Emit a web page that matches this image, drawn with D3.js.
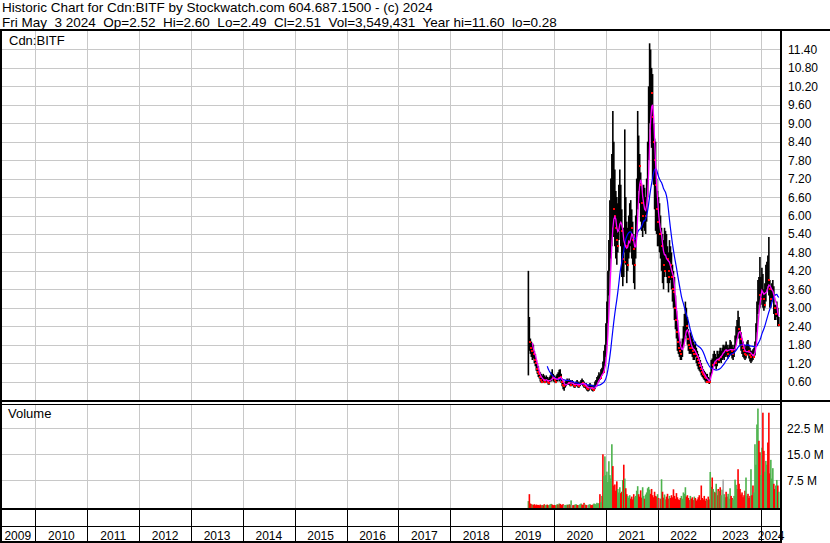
<!DOCTYPE html>
<html>
<head>
<meta charset="utf-8">
<script src="https://cdn.jsdelivr.net/npm/d3@7"></script>
<style>
body { margin: 0; background: #fff; }
svg { display: block; font-family: "Liberation Sans", Arial, sans-serif; }
</style>
</head>
<body>
<div class="chart"></div>
<script>
// weekly bars, first one is the week of 2019-07-05
var firstWeek = new Date(2019, 6, 5);

var highs = [
  4.2,2.7,2.0,1.9,1.85,1.8,1.6,1.5,1.3,1.2,
  1.1,0.95,0.9,0.85,0.8,0.85,0.8,0.75,0.8,0.75,
  0.7,0.75,0.8,0.9,1.0,0.85,0.8,0.75,0.8,0.85,
  0.9,0.98,1.0,0.85,0.7,0.6,0.55,0.6,0.65,0.7,
  0.65,0.7,0.65,0.6,0.65,0.6,0.55,0.55,0.6,0.65,
  0.6,0.55,0.6,0.65,0.7,0.65,0.6,0.55,0.55,0.5,
  0.45,0.5,0.55,0.5,0.5,0.45,0.5,0.6,0.65,0.75,
  0.8,0.9,0.85,1.0,1.05,1.25,1.6,1.8,2.5,3.2,
  4.2,5.2,6.5,7.2,8.0,9.4,8.4,7.5,6.8,6.6,
  6.4,7.0,7.5,7.0,6.2,5.6,5.6,8.8,6.6,5.8,
  5.6,6.0,6.4,6.5,6.2,5.8,5.4,5.2,6.0,7.2,
  9.4,8.6,8.0,7.4,7.0,6.8,7.0,6.9,6.6,7.2,
  8.4,10.2,11.6,11.4,10.8,10.6,9.0,8.5,8.4,7.2,
  6.8,6.6,6.4,6.0,5.6,5.4,5.2,5.6,5.5,5.4,
  5.0,4.8,5.2,5.0,4.8,4.4,4.2,4.0,3.4,2.9,
  2.6,2.2,2.0,1.9,1.8,2.0,2.4,2.8,3.2,3.0,
  2.7,2.3,2.1,2.2,2.1,2.0,1.9,1.8,1.9,1.7,
  1.6,1.5,1.4,1.3,1.2,1.1,1.0,0.95,0.9,0.85,
  0.85,0.75,0.7,0.9,1.3,1.35,1.5,1.6,1.5,1.4,
  1.6,1.5,1.6,1.7,1.6,1.7,1.8,1.75,1.8,1.9,
  1.8,1.7,1.8,1.95,1.9,1.8,1.7,1.8,2.1,2.4,
  2.6,2.9,2.7,2.4,2.2,2.0,1.9,1.8,1.7,1.8,
  1.9,1.95,1.8,1.7,1.6,1.6,1.65,1.7,1.9,2.5,
  3.2,3.9,4.0,4.65,4.0,4.3,4.1,3.6,3.8,4.4,
  4.5,4.7,5.3,3.9,3.7,3.8,3.9,3.7,3.1,3.1,
  3.2,3.0,2.7
];

var lows = [
  0.8,1.6,1.5,1.4,1.3,1.35,1.2,1.1,0.95,0.85,
  0.75,0.7,0.6,0.55,0.55,0.6,0.55,0.55,0.6,0.55,
  0.5,0.5,0.6,0.6,0.7,0.6,0.6,0.55,0.55,0.6,
  0.65,0.6,0.65,0.55,0.45,0.35,0.3,0.4,0.45,0.5,
  0.5,0.5,0.45,0.45,0.5,0.45,0.4,0.4,0.45,0.45,
  0.4,0.4,0.45,0.5,0.5,0.45,0.4,0.4,0.35,0.3,
  0.28,0.3,0.35,0.35,0.3,0.28,0.3,0.35,0.45,0.5,
  0.55,0.6,0.65,0.7,0.8,0.85,0.9,1.1,1.4,1.8,
  2.5,3.4,4.2,4.6,5.0,5.6,5.3,5.0,4.6,4.4,
  4.8,5.2,5.5,5.0,4.0,3.7,4.0,4.8,4.4,3.8,
  4.2,4.6,4.8,5.0,4.6,4.4,3.8,3.6,4.6,5.4,
  6.2,6.8,6.4,5.8,5.5,5.3,5.6,5.5,5.4,5.8,
  6.6,7.8,9.0,8.8,8.2,7.2,7.0,6.2,5.5,5.4,
  5.0,5.0,4.8,4.6,4.2,3.8,3.6,4.0,4.2,4.0,
  3.8,3.5,3.8,3.9,3.6,3.2,3.0,2.6,2.3,2.0,
  1.6,1.5,1.4,1.3,1.3,1.4,1.7,1.9,2.0,2.1,
  1.8,1.6,1.5,1.5,1.5,1.4,1.3,1.3,1.4,1.2,
  1.1,1.0,0.95,0.9,0.8,0.75,0.7,0.65,0.6,0.55,
  0.6,0.55,0.52,0.6,0.8,1.0,1.05,1.1,1.1,1.0,
  1.1,1.2,1.2,1.25,1.2,1.3,1.35,1.3,1.4,1.45,
  1.4,1.35,1.4,1.5,1.45,1.35,1.3,1.4,1.6,1.8,
  2.0,2.2,2.0,1.8,1.6,1.5,1.4,1.35,1.3,1.35,
  1.45,1.5,1.35,1.25,1.2,1.25,1.3,1.45,1.45,1.75,
  2.2,2.8,3.1,3.0,3.1,3.3,3.0,2.9,3.0,3.2,
  3.6,3.7,3.4,3.0,3.0,3.2,3.3,2.8,2.6,2.6,
  2.7,2.4,2.4
];

var closes = [
  2.4,1.9,1.7,1.6,1.7,1.5,1.3,1.2,1.0,0.9,
  0.85,0.75,0.65,0.6,0.7,0.65,0.6,0.65,0.7,0.6,
  0.55,0.65,0.7,0.8,0.75,0.7,0.65,0.6,0.7,0.75,
  0.7,0.8,0.75,0.6,0.5,0.45,0.45,0.5,0.55,0.6,
  0.55,0.6,0.5,0.55,0.55,0.5,0.45,0.5,0.55,0.5,
  0.45,0.5,0.55,0.6,0.55,0.5,0.45,0.5,0.4,0.35,
  0.35,0.4,0.45,0.4,0.35,0.32,0.4,0.5,0.55,0.65,
  0.7,0.75,0.7,0.9,1.0,0.9,1.1,1.4,1.9,2.6,
  3.6,4.5,5.2,5.6,6.4,6.2,6.0,5.6,5.2,5.0,
  5.6,6.2,6.6,5.5,4.6,4.8,4.5,6.0,5.0,4.4,
  5.0,5.4,5.8,5.6,5.2,4.9,4.4,4.8,5.6,6.6,
  8.2,7.6,7.0,6.4,6.0,6.2,6.4,6.0,6.2,6.9,
  8.0,9.6,10.8,10.0,9.2,8.4,7.8,7.0,6.2,5.8,
  6.0,5.4,5.4,5.0,5.2,4.4,4.2,4.8,5.0,4.6,
  4.2,4.0,4.6,4.4,4.0,3.6,3.5,3.0,2.6,2.2,
  1.9,1.7,1.6,1.5,1.6,1.8,2.1,2.3,2.6,2.4,
  2.0,1.8,1.7,1.8,1.7,1.6,1.5,1.6,1.5,1.4,
  1.3,1.2,1.1,1.0,0.9,0.85,0.8,0.75,0.7,0.6,
  0.65,0.6,0.58,0.85,1.25,1.15,1.3,1.4,1.2,1.3,
  1.4,1.3,1.5,1.4,1.5,1.6,1.6,1.65,1.7,1.6,
  1.5,1.6,1.7,1.8,1.6,1.5,1.55,1.7,1.9,2.2,
  2.4,2.3,2.2,2.0,1.8,1.7,1.6,1.5,1.45,1.6,
  1.7,1.6,1.45,1.4,1.5,1.45,1.4,1.55,1.8,2.3,
  2.9,3.6,3.4,3.3,3.6,3.9,3.3,3.1,3.4,3.8,
  4.0,3.9,3.6,3.3,3.5,3.6,3.7,3.0,2.8,2.9,
  3.0,2.45,2.51
];

// weekly volume, millions of shares
var volumes = [
  1.5,3.5,0.8,0.6,0.5,0.4,0.6,0.3,0.5,0.4,
  0.4,0.3,0.5,0.3,0.4,0.3,0.6,0.3,0.4,0.5,
  0.3,0.4,0.6,0.7,0.5,0.3,0.4,0.3,0.4,0.6,
  0.5,0.8,0.7,0.4,0.5,0.6,0.3,0.4,0.3,0.5,
  0.4,0.6,0.5,1.7,0.4,0.3,0.4,0.5,0.6,0.4,
  0.3,0.4,0.6,0.8,0.5,0.4,1.0,0.5,0.4,0.3,
  0.4,0.5,0.6,0.4,0.3,0.5,0.8,0.7,0.5,1.0,
  0.8,0.9,3.5,1.2,3.0,15.0,8.7,14.4,9.0,10.0,
  7.0,13.0,9.0,8.0,17.9,11.6,6.0,6.3,4.5,7.2,
  5.0,4.0,5.5,3.8,4.2,7.6,12.0,8.0,5.2,3.5,
  3.0,2.5,3.2,2.2,2.8,2.0,3.5,2.6,3.0,4.5,
  5.8,3.5,2.8,4.6,2.5,5.5,3.0,2.2,3.4,4.0,
  5.2,5.6,4.8,3.6,5.0,3.2,2.6,4.2,3.0,2.8,
  3.5,2.4,2.2,2.2,7.8,4.2,2.5,3.4,2.0,2.8,
  3.6,2.2,3.0,2.4,3.2,2.6,4.9,3.0,2.2,3.8,
  2.6,2.0,1.8,2.4,3.0,2.2,4.0,3.6,5.5,2.8,
  3.2,2.4,1.8,3.0,2.2,2.6,1.8,2.8,2.4,1.6,
  2.0,2.6,3.2,1.8,6.0,2.4,2.0,3.0,1.6,2.2,
  1.8,2.8,2.0,9.9,5.6,8.3,5.0,4.2,4.0,6.5,
  3.2,5.0,4.4,5.5,3.2,4.8,7.7,3.5,2.6,4.2,
  2.8,3.6,2.2,5.2,3.0,2.4,2.0,3.0,7.7,6.2,
  5.0,10.7,6.5,5.0,3.4,4.0,2.6,3.2,4.5,8.3,
  3.0,3.6,2.4,3.0,10.7,3.2,6.0,4.0,17.9,12.0,
  23.6,28.2,18.9,15.6,9.0,16.9,27.0,16.0,10.0,13.1,
  12.0,18.4,27.0,9.5,13.4,8.0,11.0,6.5,5.0,6.0,
  7.6,6.0,4.2
];

var priceTicks = [0.6,1.2,1.8,2.4,3.0,3.6,4.2,4.8,5.4,6.0,6.6,7.2,7.8,8.4,9.0,9.6,10.2,10.8,11.4];
var volumeTicks = [7.5, 15, 22.5];
var years = [2009,2010,2011,2012,2013,2014,2015,2016,2017,2018,2019,2020,2021,2022,2023,2024];

var headerLines = [
  "Historic Chart for Cdn:BITF by Stockwatch.com 604.687.1500 - (c) 2024",
  "Fri May  3 2024  Op=2.52  Hi=2.60  Lo=2.49  Cl=2.51  Vol=3,549,431  Year hi=11.60  lo=0.28"
];

var width = 830;
var height = 543;
var plotRight = 781;
var priceTop = 30, priceBottom = 401;
var volTop = 404, volBottom = 509;

var x = d3.scaleTime()
  .domain([new Date(2009, 4, 3), new Date(2024, 4, 3)])
  .range([1, 778.8]);

var y = d3.scaleLinear()
  .domain([0, 12])
  .range([400, 31]);

var yVol = d3.scaleLinear()
  .domain([0, 30])
  .range([506.3, 402.3]);

var weeks = closes.map(function(c, i) {
  return {
    date: d3.timeDay.offset(firstWeek, i * 7),
    high: highs[i],
    low: lows[i],
    close: c,
    volume: volumes[i],
    change: i === 0 ? 1 : c - closes[i - 1]
  };
});

function movingAverage(n) {
  return weeks.map(function(d, i) {
    if (i < n - 1) return null;
    return {date: d.date, value: d3.mean(weeks.slice(i - n + 1, i + 1), function(w) { return w.close; })};
  });
}

function crisp(v) { return Math.round(v) + 0.5; }

var yearStarts = years.slice(1).map(function(yr) { return new Date(yr, 0, 1); });

var svg = d3.select(".chart").append("svg")
    .attr("width", width)
    .attr("height", height);

svg.append("rect")
  .attr("width", width)
  .attr("height", height)
  .attr("fill", "#fff");

// header
svg.selectAll(".header")
  .data(headerLines)
  .enter().append("text")
    .attr("class", "header")
    .attr("x", 2)
    .attr("y", function(d, i) { return 12 + i * 14.5; })
    .style("font-size", "13.5px")
    .style("white-space", "pre")
    .attr("fill", "#000")
    .text(function(d) { return d; });

// grid
var grid = svg.append("g")
  .attr("stroke", "#c8c8c8")
  .attr("stroke-width", 1)
  .attr("shape-rendering", "crispEdges");

grid.selectAll(".hgrid")
  .data(priceTicks)
  .enter().append("line")
    .attr("x1", 1).attr("x2", plotRight)
    .attr("y1", function(d) { return crisp(y(d)); })
    .attr("y2", function(d) { return crisp(y(d)); });

grid.selectAll(".vgrid")
  .data(volumeTicks)
  .enter().append("line")
    .attr("x1", 1).attr("x2", plotRight)
    .attr("y1", function(d) { return crisp(yVol(d)); })
    .attr("y2", function(d) { return crisp(yVol(d)); });

[[priceTop, priceBottom], [volTop, volBottom]].forEach(function(span) {
  grid.selectAll(null)
    .data(yearStarts)
    .enter().append("line")
      .attr("x1", function(d) { return crisp(x(d)); })
      .attr("x2", function(d) { return crisp(x(d)); })
      .attr("y1", span[0]).attr("y2", span[1]);
});

svg.append("clipPath").attr("id", "priceClip")
  .append("rect").attr("x", 1).attr("y", priceTop).attr("width", plotRight - 1).attr("height", priceBottom - priceTop);
svg.append("clipPath").attr("id", "volClip")
  .append("rect").attr("x", 1).attr("y", volTop).attr("width", plotRight - 1).attr("height", volBottom - volTop);

// price bars
var priceG = svg.append("g").attr("clip-path", "url(#priceClip)");

var line = d3.line()
  .defined(function(d) { return d !== null; })
  .x(function(d) { return x(d.date); })
  .y(function(d) { return y(d.value); });

priceG.selectAll(".bar")
  .data(weeks)
  .enter().append("line")
    .attr("class", "bar")
    .attr("x1", function(d) { return x(d.date); })
    .attr("x2", function(d) { return x(d.date); })
    .attr("y1", function(d) { return y(d.high); })
    .attr("y2", function(d) { return y(d.low); })
    .attr("stroke", "#000")
    .attr("stroke-width", 1.6);

priceG.selectAll(".closeDot")
  .data(weeks.filter(function(d) { return d.change < 0; }))
  .enter().append("rect")
    .attr("class", "closeDot")
    .attr("x", function(d) { return Math.round(x(d.date)); })
    .attr("y", function(d) { return Math.round(y(d.close)) - 1; })
    .attr("width", 2)
    .attr("height", 2)
    .attr("fill", "#ff0000");

priceG.append("path")
  .attr("d", line(movingAverage(20)))
  .attr("fill", "none")
  .attr("stroke", "#0000ff")
  .attr("stroke-width", 1.2);

priceG.append("path")
  .attr("d", line(movingAverage(5)))
  .attr("fill", "none")
  .attr("stroke", "#ff00ff")
  .attr("stroke-width", 1.3);

// volume bars
var volG = svg.append("g").attr("clip-path", "url(#volClip)");

volG.selectAll(".vol")
  .data(weeks)
  .enter().append("rect")
    .attr("class", "vol")
    .attr("x", function(d) { return x(d.date) - 0.8; })
    .attr("width", 1.6)
    .attr("y", function(d) { return yVol(d.volume); })
    .attr("height", function(d) { return yVol(0) - yVol(d.volume) + 3; })
    .attr("fill", function(d) {
      if (d.change > 0) return "#4db34d";
      if (d.change < 0) return "#ff0000";
      return "#a8a8a8";
    });

// frame
var frame = svg.append("g").attr("fill", "#000").attr("shape-rendering", "crispEdges");
frame.append("rect").attr("x", 0).attr("y", 29).attr("width", width).attr("height", 2);
frame.append("rect").attr("x", 0).attr("y", 29).attr("width", 2).attr("height", height - 29);
frame.append("rect").attr("x", plotRight - 1).attr("y", 29).attr("width", 2).attr("height", height - 29);
frame.append("rect").attr("x", 0).attr("y", 400).attr("width", width).attr("height", 2);
frame.append("rect").attr("x", 0).attr("y", volTop).attr("width", plotRight).attr("height", 1);
frame.append("rect").attr("x", 0).attr("y", 508).attr("width", plotRight + 1).attr("height", 2);
frame.append("rect").attr("x", 0).attr("y", 526).attr("width", plotRight + 1).attr("height", 1);
frame.append("rect").attr("x", 0).attr("y", 541).attr("width", plotRight + 1).attr("height", 2);

frame.selectAll(".yearSep")
  .data(yearStarts)
  .enter().append("rect")
    .attr("x", function(d) { return Math.round(x(d)); })
    .attr("y", 510)
    .attr("width", 1)
    .attr("height", 31);

// labels
svg.append("text")
  .attr("x", 9).attr("y", 45)
  .style("font-size", "13px")
  .text("Cdn:BITF");

svg.append("text")
  .attr("x", 8).attr("y", 418)
  .style("font-size", "13px")
  .text("Volume");

svg.selectAll(".priceLabel")
  .data(priceTicks)
  .enter().append("text")
    .attr("class", "priceLabel")
    .attr("x", 788)
    .attr("y", function(d) { return y(d) + 4.5; })
    .style("font-size", "12px")
    .text(d3.format(".2f"));

svg.selectAll(".volLabel")
  .data(volumeTicks)
  .enter().append("text")
    .attr("class", "volLabel")
    .attr("x", 787)
    .attr("y", function(d) { return yVol(d) + 4.5; })
    .style("font-size", "12px")
    .text(function(d) { return d3.format(".1f")(d) + " M"; });

svg.selectAll(".yearLabel")
  .data(years)
  .enter().append("text")
    .attr("class", "yearLabel")
    .attr("x", function(d) {
      var a = Math.max(0, x(new Date(d, 0, 1)));
      var b = Math.min(plotRight, x(new Date(d + 1, 0, 1)));
      return (a + b) / 2;
    })
    .attr("y", 539.5)
    .attr("text-anchor", "middle")
    .style("font-size", "12px")
    .text(function(d) { return d; });
</script>
</body>
</html>
